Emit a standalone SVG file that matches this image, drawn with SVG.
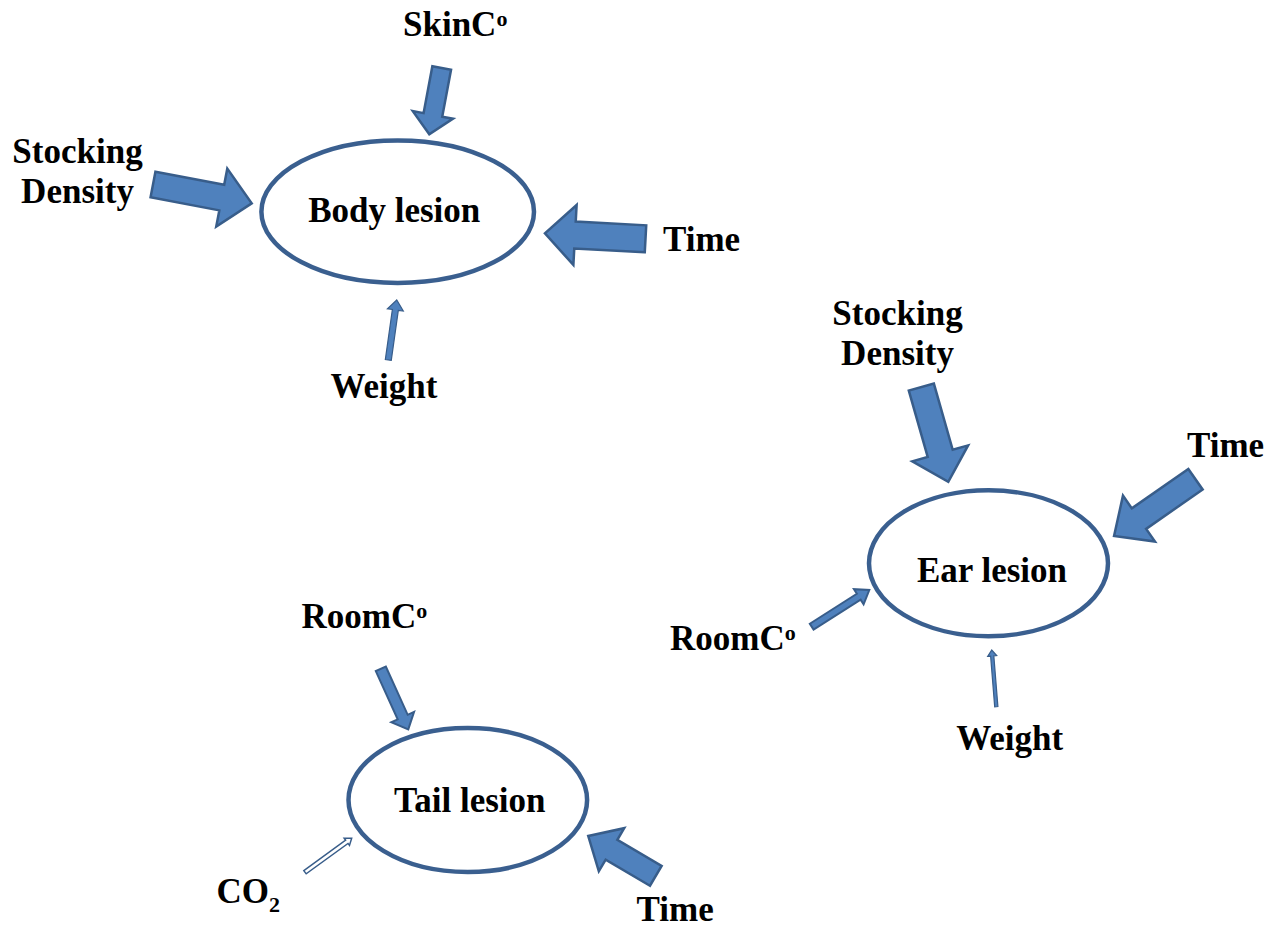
<svg xmlns="http://www.w3.org/2000/svg" width="1282" height="930" viewBox="0 0 1282 930">
<style>
text{font-family:"Liberation Serif","Times New Roman",serif;font-weight:bold;font-size:35px;fill:#000}
.lesion{fill:#fff;stroke:#3a5f8f;stroke-width:4.5}
.arr{fill:#4f81bd;stroke:#385d8a;stroke-width:2.5;stroke-linejoin:miter}
.thin{fill:#4f81bd;stroke:#385d8a;stroke-width:1.2}
.hollow{fill:#fff;stroke:#385d8a;stroke-width:1.5}
.sup{font-size:22px}
</style>
<rect width="1282" height="930" fill="#fff"/>
<g id="connectors">
<path class="arr" d="M0,-9.5H47.7V-20.5L67.5,0L47.7,20.5V9.5H0Z" transform="translate(441.7,68) rotate(100.6)"/>
<path class="arr" d="M0,-13H70V-29.5L100.5,0L70,29.5V13H0Z" transform="translate(153,184.5) rotate(10.8)"/>
<path class="arr" d="M0,-13.5H70.6V-30L100.7,0L70.6,30V13.5H0Z" transform="translate(645.5,238.8) rotate(183.1)"/>
<path class="thin" d="M0,-3H50.6V-8L60.6,0L50.6,8V3H0Z" transform="translate(388.3,360) rotate(-82)"/>
<path class="arr" d="M0,-13H69V-29L98.5,0L69,29V13H0Z" transform="translate(921.3,387) rotate(74.1)"/>
<path class="arr" d="M0,-12.5H68.9V-28L99.3,0L68.9,28V12.5H0Z" transform="translate(1195.5,479.2) rotate(145.1)"/>
<path class="arr" style="stroke-width:2" d="M0,-3.5H55.8V-9L68.3,0L55.8,9V3.5H0Z" transform="translate(811.7,626.7) rotate(-32.5)"/>
<path class="thin" d="M0,-1.6H50.9V-4.5L56.9,0L50.9,4.5V1.6H0Z" transform="translate(996.3,706.7) rotate(-94.6)"/>
<path class="arr" style="stroke-width:2" d="M0,-5.5H53V-12.5L66.5,0L53,12.5V5.5H0Z" transform="translate(380.8,668.8) rotate(65.6)"/>
<path class="hollow" d="M0,-2H51.7V-4.5L57.7,0L51.7,4.5V2H0Z" transform="translate(305,872.2) rotate(-36)"/>
<path class="arr" d="M0,-11.5H51.4V-25L78.4,0L51.4,25V11.5H0Z" transform="translate(655.8,875.8) rotate(210.5)"/>
</g>
<g id="body-lesion">
<ellipse class="lesion" cx="397.7" cy="211.7" rx="136.3" ry="71.3"/>
<text x="394.2" y="221.7" text-anchor="middle">Body lesion</text>
</g>
<g id="ear-lesion">
<ellipse class="lesion" cx="988.5" cy="563.3" rx="119.5" ry="73"/>
<text x="992" y="582" text-anchor="middle">Ear lesion</text>
</g>
<g id="tail-lesion">
<ellipse class="lesion" cx="467.8" cy="800" rx="119.3" ry="72"/>
<text x="469.8" y="812" text-anchor="middle">Tail lesion</text>
</g>
<g id="body-skin">
<text x="403" y="36">SkinC<tspan class="sup" dy="-10">o</tspan></text>
</g>
<g id="body-stocking">
<text x="77.5" y="163" text-anchor="middle">Stocking</text>
<text x="77.5" y="203" text-anchor="middle">Density</text>
</g>
<g id="body-time">
<text x="663" y="251">Time</text>
</g>
<g id="body-weight">
<text x="384" y="398" text-anchor="middle">Weight</text>
</g>
<g id="ear-stocking">
<text x="897.5" y="325" text-anchor="middle">Stocking</text>
<text x="897.5" y="365" text-anchor="middle">Density</text>
</g>
<g id="ear-time">
<text x="1187" y="457">Time</text>
</g>
<g id="ear-room">
<text x="670" y="650">RoomC<tspan class="sup" dy="-10">o</tspan></text>
</g>
<g id="ear-weight">
<text x="1009.7" y="750" text-anchor="middle">Weight</text>
</g>
<g id="tail-room">
<text x="301.6" y="628">RoomC<tspan class="sup" dy="-10">o</tspan></text>
</g>
<g id="tail-co2">
<text x="216.5" y="903">CO<tspan class="sup" dy="8.5">2</tspan></text>
</g>
<g id="tail-time">
<text x="636.6" y="921">Time</text>
</g>
</svg>
